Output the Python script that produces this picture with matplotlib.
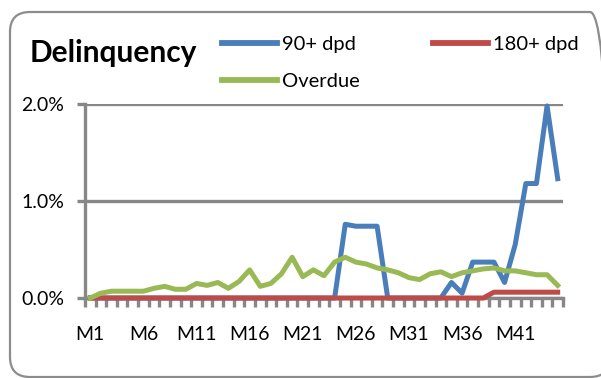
import matplotlib
matplotlib.use("Agg")
import matplotlib.pyplot as plt
from matplotlib.patches import FancyBboxPatch
from matplotlib.ticker import FixedLocator, FuncFormatter

plt.rcParams['font.family'] = ['Lato', 'DejaVu Sans']

months = [f"M{i}" for i in range(1, 46)]
dpd90 = [0, 0, 0, 0, 0, 0, 0, 0, 0, 0,
         0, 0, 0, 0, 0, 0, 0, 0, 0, 0,
         0, 0, 0, 0, 0.76, 0.74, 0.74, 0.74, 0, 0,
         0, 0, 0, 0, 0.16, 0.05, 0.37, 0.37, 0.37, 0.16,
         0.55, 1.18, 1.18, 1.98, 1.23]
dpd180 = [0] * 38 + [0.06] * 7
overdue = [0.00, 0.05, 0.07, 0.07, 0.07, 0.07, 0.10, 0.12, 0.09, 0.09,
           0.15, 0.13, 0.16, 0.10, 0.17, 0.29, 0.12, 0.15, 0.25, 0.42,
           0.22, 0.29, 0.23, 0.37, 0.42, 0.37, 0.35, 0.31, 0.29, 0.26,
           0.21, 0.19, 0.25, 0.27, 0.22, 0.26, 0.28, 0.30, 0.31, 0.28,
           0.28, 0.26, 0.24, 0.24, 0.13]
yticks = [0.0, 1.0, 2.0]

W, H = 601, 378
fig = plt.figure(figsize=(W / 100, H / 100), dpi=100)

# rounded border
border = FancyBboxPatch((10, 1), 600, 365, boxstyle="round,pad=0,rounding_size=20",
                        transform=None, facecolor='none', edgecolor='#8c8c8c',
                        linewidth=1.6, zorder=-1)
fig.patches.append(border)

ax = fig.add_axes([85 / W, (H - 298) / H, 478 / W, 194 / H])
ax.set_facecolor('none')
gray = '#878787'
x = list(range(len(months)))
lw = 3.6
lb, = ax.plot(x, dpd90, color='#4A7EBB', lw=lw, clip_on=False, zorder=3)
lr, = ax.plot(x, dpd180, color='#BE4B48', lw=lw, clip_on=False, zorder=4)
lg, = ax.plot(x, overdue, color='#98B954', lw=lw, clip_on=False, zorder=5)

ax.set_xlim(-0.5, len(months) - 0.5)
ax.set_ylim(0, 2.0)

for s in ['top', 'right']:
    ax.spines[s].set_visible(False)
for s in ['left', 'bottom']:
    ax.spines[s].set_color(gray)
    ax.spines[s].set_linewidth(2.4)
    ax.spines[s].set_zorder(2)

ax.set_yticks(yticks)
ax.yaxis.set_major_formatter(FuncFormatter(lambda v, p: f"{v:.1f}%"))
ax.tick_params(axis='y', length=6, width=2.4, color=gray, pad=9,
               labelsize=14, labelcolor='black')
ax.yaxis.grid(True, color=gray, lw=2.4, zorder=1)
ax.set_axisbelow(True)

ax.set_xticks(x[::5])
ax.set_xticklabels(months[::5])
ax.xaxis.set_minor_locator(FixedLocator([i - 0.5 for i in range(len(months) + 1)]))
ax.tick_params(axis='x', which='major', length=0, pad=20, labelsize=14, labelcolor='black')
ax.tick_params(axis='x', which='minor', length=6.5, width=2.4, color=gray, direction='out')

fig.text(30 / W, 1 - 53 / H, "Delinquency", fontsize=21.5, fontweight='bold',
         ha='left', va='center')

leg = fig.legend([lb, lg, lr], ["90+ dpd", "Overdue", "180+ dpd"], ncol=2,
                 loc='upper left', bbox_to_anchor=(222 / W, 1 - 36 / H),
                 frameon=False, fontsize=14.5, handlelength=2.75, handletextpad=0.25,
                 columnspacing=3.6, labelspacing=1.0, borderpad=0, borderaxespad=0)
for h in leg.legend_handles:
    h.set_linewidth(4.2)

fig.savefig("out.png", dpi=100)
